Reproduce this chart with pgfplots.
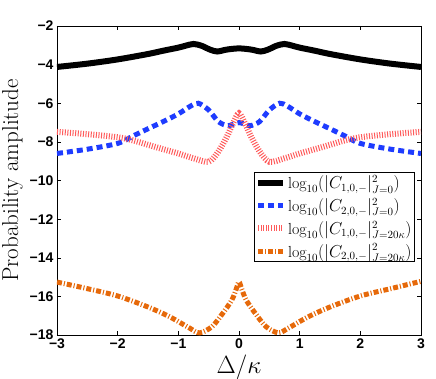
\documentclass[border=0pt]{standalone}
\usepackage{fontspec}
\setsansfont{Liberation Sans}
\usepackage{pgfplots}
\pgfplotsset{compat=1.18}
\definecolor{mblue}{RGB}{30,60,255}
\definecolor{mred}{RGB}{255,90,90}
\definecolor{morange}{RGB}{230,105,10}
\begin{document}
\begin{tikzpicture}
\begin{axis}[
  scale only axis, width=364pt, height=309pt,
  xmin=-3, xmax=3, ymin=-18, ymax=-2,
  xtick={-3,-2,-1,0,1,2,3},
  xticklabels={\textminus3,\textminus2,\textminus1,0,1,2,3},
  ytick={-18,-16,-14,-12,-10,-8,-6,-4,-2},
  yticklabels={\textminus18,\textminus16,\textminus14,\textminus12,\textminus10,\textminus8,\textminus6,\textminus4,\textminus2},
  tick align=inside, major tick length=4pt,
  tick style={black, line width=0.5pt},
  axis line style={line width=0.8pt},
  ticklabel style={font=\sffamily\bfseries\fontsize{14}{14}\selectfont},
  xlabel={$\Delta/\kappa$}, ylabel={Probability amplitude},
  label style={font=\fontsize{23}{23}\selectfont},
  legend style={at={(0.9835,0.5275)}, anchor=north east, draw=black, line width=0.8pt,
    font=\fontsize{16}{16}\selectfont, row sep=4pt, inner sep=1pt},
  legend cell align=left,
  legend image code/.code={\draw[#1] (0pt,0pt) -- (25pt,0pt);},
]
\addplot[black, line width=6pt, smooth] coordinates {
(-3,-4.12) (-2.5,-3.95) (-2,-3.73) (-1.5,-3.45) (-1.25,-3.28) (-1,-3.12) (-0.88,-3.02) (-0.75,-2.93) (-0.62,-3.02) (-0.48,-3.22) (-0.36,-3.32) (-0.2,-3.22) (0,-3.16)
(0.2,-3.22) (0.36,-3.32) (0.48,-3.22) (0.62,-3.02) (0.75,-2.93) (0.88,-3.02) (1,-3.12) (1.25,-3.28) (1.5,-3.45) (2,-3.73) (2.5,-3.95) (3,-4.12)};
\addlegendentry{$\log_{10}(|C_{1,0,-}|^2_{J=0})$}
\addplot[mblue, line width=5pt, dash pattern=on 6pt off 4pt, smooth] coordinates {
(-3,-8.6) (-2.5,-8.38) (-2,-8.08) (-1.75,-7.7) (-1.5,-7.32) (-1.25,-6.95) (-1,-6.55) (-0.8,-6.15) (-0.67,-6.0) (-0.5,-6.35) (-0.34,-6.95) (-0.18,-7.16) (0,-7.0)
(0.18,-7.16) (0.34,-6.95) (0.5,-6.35) (0.67,-6.0) (0.8,-6.15) (1,-6.55) (1.25,-6.95) (1.5,-7.32) (1.75,-7.7) (2,-8.08) (2.5,-8.38) (3,-8.6)};
\addlegendentry{$\log_{10}(|C_{2,0,-}|^2_{J=0})$}
\addplot[mred, line width=6pt, dash pattern=on 1pt off 1.6pt, smooth] coordinates {
(-3,-7.48) (-2.5,-7.6) (-2,-7.76) (-1.75,-7.92) (-1.5,-8.15) (-1.25,-8.38) (-1,-8.6) (-0.75,-8.85) (-0.5,-9.03) (-0.34,-8.5) (-0.2,-7.73) (-0.1,-7.05) (0,-6.52)
(0.1,-7.05) (0.2,-7.73) (0.34,-8.5) (0.5,-9.03) (0.75,-8.85) (1,-8.6) (1.25,-8.38) (1.5,-8.15) (1.75,-7.92) (2,-7.76) (2.5,-7.6) (3,-7.48)};
\addlegendentry{$\log_{10}(|C_{1,0,-}|^2_{J=20\kappa})$}
\addplot[morange, line width=5pt, dash pattern=on 5pt off 2pt on 1pt off 2pt, smooth] coordinates {
(-3,-15.26) (-2.5,-15.6) (-2,-15.98) (-1.5,-16.55) (-1.14,-17.06) (-0.81,-17.65) (-0.65,-17.89) (-0.45,-17.58) (-0.29,-16.97) (-0.12,-16.2) (-0.04,-15.57) (0,-15.25)
(0.04,-15.57) (0.12,-16.2) (0.29,-16.97) (0.45,-17.58) (0.65,-17.89) (0.81,-17.65) (1.14,-17.06) (1.5,-16.55) (2,-15.98) (2.5,-15.6) (3,-15.22)};
\addlegendentry{$\log_{10}(|C_{2,0,-}|^2_{J=20\kappa})$}
\end{axis}
\pgfresetboundingbox
\path ([shift={(-57pt,-43pt)}]current axis.south west) rectangle ([shift={(15pt,26pt)}]current axis.north east);
\end{tikzpicture}
\end{document}
